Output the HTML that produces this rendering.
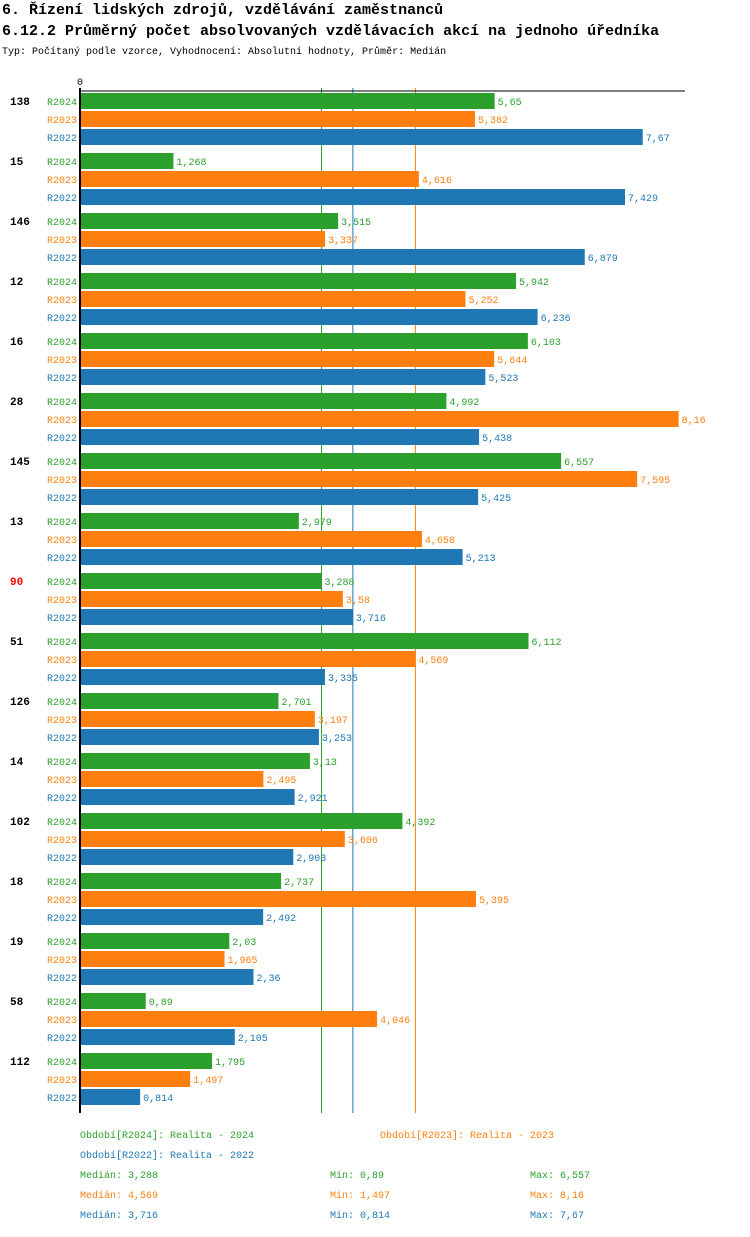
<!DOCTYPE html>
<html><head><meta charset="utf-8"><style>
body{margin:0;background:#fff;width:750px;height:1232px;overflow:hidden;font-family:"Liberation Mono","DejaVu Sans Mono",monospace;}
</style></head><body>
<svg id="c" width="750" height="1232" xmlns="http://www.w3.org/2000/svg" font-family="Liberation Mono, DejaVu Sans Mono, monospace">
<text x="2" y="14" font-size="15" font-weight="bold">6. Řízení lidských zdrojů, vzdělávání zaměstnanců</text>
<text x="2" y="35" font-size="15" font-weight="bold">6.12.2 Průměrný počet absolvovaných vzdělávacích akcí na jednoho úředníka</text>
<text x="2" y="54" font-size="10">Typ: Počítaný podle vzorce, Vyhodnocení: Absolutní hodnoty, Průměr: Medián</text>
<text x="80" y="85" font-size="10" text-anchor="middle">0</text>
<g id="g"></g>
</svg>
<script>
const categories=["138","15","146","12","16","28","145","13","90","51","126","14","102","18","19","58","112"];
const r2024=[5.65,1.268,3.515,5.942,6.103,4.992,6.557,2.979,3.288,6.112,2.701,3.13,4.392,2.737,2.03,0.89,1.795];
const r2023=[5.382,4.616,3.337,5.252,5.644,8.16,7.595,4.658,3.58,4.569,3.197,2.495,3.606,5.395,1.965,4.046,1.497];
const r2022=[7.67,7.429,6.879,6.236,5.523,5.438,5.425,5.213,3.716,3.335,3.253,2.921,2.903,2.492,2.36,2.105,0.814];
const seriesNames=["R2024","R2023","R2022"];
const highlight="90";
const colors=["#2ca02c","#ff7f0e","#1f77b4"];
const NS="http://www.w3.org/2000/svg";
const gEl=document.getElementById('g');
const x0=80.5, k=73.3, topY=93, gp=60, rp=18, bh=16;
const X=v=>x0+v*k;
const fmt=v=>String(v).replace('.',',');
function el(t,a,txt){const e=document.createElementNS(NS,t);for(const n in a)e.setAttribute(n,a[n]);if(txt!==undefined)e.textContent=txt;gEl.appendChild(e);return e;}
const med=a=>{const s=[...a].sort((p,q)=>p-q);const m=s.length>>1;return s.length%2?s[m]:(s[m-1]+s[m])/2;};
const series=[r2024,r2023,r2022];
const bottomY=topY+categories.length*gp-8;
series.forEach((s,i)=>{
 const m=med(s);
 const l=el('line',{x1:X(m),x2:X(m),y1:88,y2:bottomY+8,stroke:colors[i],'stroke-width':1});
 
 
});
categories.forEach((c,ci)=>{
 const gy=topY+ci*gp;
 const t=el('text',{x:10,y:gy+12,'font-size':11,'font-weight':'bold',fill:c===highlight?'#ff0000':'#000'},c);
 
 
 series.forEach((s,si)=>{
  const y=gy+si*rp;
  const lb=el('text',{x:77,y:y+12,'font-size':10,'text-anchor':'end',fill:colors[si]},seriesNames[si]);
  
  
  const r=el('rect',{x:x0,y:y,width:X(s[ci])-x0,height:bh,fill:colors[si]});
  
  
  const v=el('text',{x:X(s[ci])+3,y:y+12,'font-size':10,fill:colors[si]},fmt(s[ci]));
  
  
 });
});
const ax=el('line',{x1:80,x2:80,y1:88,y2:bottomY+8,stroke:'#000','stroke-width':2});


const tx=el('line',{x1:80,x2:685,y1:91,y2:91,stroke:'#000','stroke-width':1});


const leg=[[80,1138,0,"Období[R2024]: Realita - 2024"],[380,1138,1,"Období[R2023]: Realita - 2023"],[80,1158,2,"Období[R2022]: Realita - 2022"]];
leg.forEach(([x,y,i,t])=>{const e=el('text',{x:x,y:y,'font-size':10,fill:colors[i]},t);
 
 });
series.forEach((s,i)=>{
 const y=1178+i*20;
 const a=el('text',{x:80,y:y,'font-size':10,fill:colors[i]},'Medián: '+fmt(med(s)));
 
 
 const b=el('text',{x:330,y:y,'font-size':10,fill:colors[i]},'Min: '+fmt(Math.min(...s)));
 
 
 const d=el('text',{x:530,y:y,'font-size':10,fill:colors[i]},'Max: '+fmt(Math.max(...s)));
 
 
});
</script>
</body></html>
